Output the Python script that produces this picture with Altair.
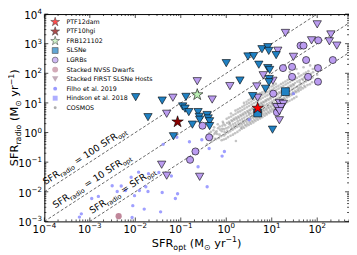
import math
import altair as alt
import pandas as pd

# ---------------- data ----------------
slsn_lim_x = [1.0, 3.0, 4.0, 6.1, 8.2, 8.6, 12.5, 5.2, 8.2, 9.0, 8.8, 2.0, 8.7, 7.3, 3.8,
              0.039, 0.13, 0.11, 0.124, 0.15, 0.24, 0.255, 0.38, 0.40, 0.43, 0.26, 0.18,
              0.43, 0.0102, 0.019, 0.069, 10.4]
slsn_lim_y = [220, 370, 380, 650, 760, 570, 410, 195, 150, 130, 64, 57, 50, 30, 17,
              12, 16, 7.6, 6.4, 4.9, 4.9, 3.4, 3.9, 3.0, 2.4, 2.7, 1.85,
              1.65, 15.6, 3.3, 0.75, 1.25]
slsn_det_x = [20, 4.9]
slsn_det_y = [24, 4.6]

lgrb_lim_x = [100, 20, 200, 75, 185, 270, 13.6, 30, 0.23, 1.2, 4.7, 6.5, 0.067, 0.49,
              0.049, 10.6, 4.9, 14.7, 18, 12.9, 16, 14.7, 14.7, 0.038, 0.049, 0.26]
lgrb_lim_y = [4500, 2300, 2050, 1300, 1200, 860, 580, 360, 54, 37, 36, 86, 15, 13,
              4.3, 56, 15, 10, 9.3, 7.2, 7.2, 5.3, 2.6, 0.082, 0.035, 0.032]
lgrb_det_x = [43, 50, 105, 57, 220, 17.7, 28, 104, 28, 63, 104, 10.8, 13, 0.3, 0.42, 0.21, 0.16]
lgrb_det_y = [860, 860, 1300, 280, 280, 150, 165, 150, 76, 76, 52, 20.6, 4.8, 1.7, 0.69, 0.23, 0.12]

ptf12dam = (4.9, 6.7)
ptf10hgi = (0.085, 2.3)
frb121102 = (0.23, 19)
nvss_x = [0.0043]
nvss_y = [0.0015]

filho_x = [0.041, 0.082, 0.155, 0.0118, 0.0081, 0.0031, 0.0049, 0.0040, 0.0061, 0.00154,
           0.0011, 0.0123, 0.0096, 0.019, 0.039, 0.017, 0.0195, 0.062, 0.085, 0.076,
           0.0088, 0.0157, 0.036, 0.0085, 0.00065, 0.00059, 0.033, 0.29, 0.42, 0.91,
           0.81, 0.24, 0.38, 30, 3.2]
filho_y = [0.40, 0.69, 0.49, 0.046, 0.031, 0.016, 0.0156, 0.0102, 0.011, 0.007,
           0.0059, 0.011, 0.0074, 0.0102, 0.0095, 0.0148, 0.041, 0.034, 0.0086, 0.0059,
           0.0034, 0.0026, 0.0021, 0.00135, 0.0018, 0.0014, 0.045, 0.57, 0.29, 0.23,
           0.16, 0.07, 0.0148, 20.6, 2.7]

cosmos_x = [0.4, 0.42, 0.38, 0.5, 0.52, 0.48, 0.55, 0.63, 0.66, 0.6, 0.65, 0.61,
            0.8, 0.82, 0.77, 0.84, 0.79, 0.81, 1.0, 1.04, 0.96, 1.02, 0.98, 1.06, 0.94,
            1.26, 1.3, 1.22, 1.28, 1.24, 1.32, 1.2, 1.27,
            1.58, 1.62, 1.54, 1.6, 1.56, 1.65, 1.52, 1.59, 1.63,
            2.0, 2.05, 1.95, 2.02, 1.97, 2.08, 1.92, 2.0, 2.1,
            2.5, 2.56, 2.44, 2.52, 2.47, 2.6, 2.4, 2.5, 2.58, 2.45,
            3.16, 3.24, 3.08, 3.2, 3.12, 3.3, 3.04, 3.18, 3.26, 3.1, 3.22,
            4.0, 4.1, 3.9, 4.05, 3.95, 4.15, 3.85, 4.02, 4.12, 3.92, 4.08,
            5.0, 5.1, 4.9, 5.06, 4.95, 5.2, 4.85, 5.04, 5.15, 4.9, 5.1,
            6.3, 6.45, 6.15, 6.35, 6.2, 6.5, 6.1, 6.3, 6.45, 6.2, 6.4,
            7.9, 8.1, 7.7, 8.0, 7.8, 8.2, 7.6, 7.95, 8.15, 7.75,
            10, 10.3, 9.7, 10.1, 9.8, 10.4, 9.6, 10, 10.2, 9.9,
            12.6, 13, 12.2, 12.7, 12.4, 13.1, 12.1, 12.6, 12.9, 12.3,
            15.8, 16.3, 15.3, 16, 15.5, 16.5, 15.2, 15.9, 16.2,
            20, 20.6, 19.4, 20.2, 19.6, 20.8, 19.2, 20,
            25, 25.8, 24.3, 25.3, 24.6, 26, 24.1, 25,
            31.6, 32.5, 30.7, 32, 31, 33, 30.5, 31.6,
            40, 41, 39, 40.5, 39.5, 41.5, 38.5,
            50, 51.5, 48.5, 50.5, 52, 49,
            63, 65, 61, 64, 62,
            79, 81, 77, 80,
            100, 96, 104,
            25, 35, 50, 70, 90]
cosmos_y = [0.6, 0.95, 0.4, 0.75, 1.2, 0.5, 0.9, 0.9, 1.4, 0.6, 1.9, 1.1,
            1.1, 1.7, 0.75, 2.3, 0.55, 1.35, 1.4, 2.1, 0.9, 2.9, 0.62, 1.15, 1.75,
            1.7, 2.6, 1.1, 3.5, 0.78, 1.4, 2.1, 4.4,
            2.1, 3.2, 1.4, 4.3, 0.95, 1.75, 2.7, 5.5, 0.52,
            2.6, 3.9, 1.7, 5.2, 1.2, 2.1, 3.2, 6.6, 1.45,
            3.2, 4.8, 2.1, 6.4, 1.45, 2.6, 4.0, 8.2, 1.8, 10,
            4.0, 5.9, 2.6, 7.9, 1.8, 3.2, 5.0, 10, 2.2, 12.5, 4.5,
            4.9, 7.3, 3.2, 9.8, 2.2, 3.9, 6.2, 12.5, 2.7, 15, 5.6,
            6.0, 9.0, 3.9, 12, 2.7, 4.8, 7.6, 15, 3.3, 19, 6.8,
            7.4, 11, 4.8, 15, 3.3, 5.9, 9.3, 19, 4.1, 23, 8.3,
            9.1, 13.6, 5.9, 18, 4.1, 7.2, 11.5, 23, 5.0, 29,
            11.2, 16.8, 7.3, 22, 5.1, 8.9, 14, 28, 6.2, 36,
            13.8, 20.7, 9, 28, 6.3, 11, 17.5, 35, 7.6, 44,
            17, 25.5, 11, 34, 7.8, 13.5, 21.5, 43, 9.4,
            21, 31, 13.6, 42, 9.6, 16.7, 26.5, 53,
            25.7, 38.5, 16.7, 51, 11.8, 20.5, 32, 65,
            31.6, 47, 20.5, 63, 14.5, 25, 40, 80,
            39, 58, 25, 78, 31, 49, 98,
            48, 72, 31, 96, 38, 60,
            59, 88, 40, 118, 75,
            72, 108, 50, 140,
            89, 130, 62,
            110, 140, 160, 185, 180]

cosmos2_x = [0.45, 0.46, 0.56, 0.58, 0.54, 0.71, 0.73, 0.69, 0.72,
             0.89, 0.9, 0.87, 0.92, 0.88, 1.12, 1.15, 1.1, 1.14, 1.09, 1.17,
             1.41, 1.45, 1.38, 1.43, 1.4, 1.47, 1.36,
             1.78, 1.82, 1.74, 1.8, 1.76, 1.85, 1.72, 1.79,
             2.24, 2.3, 2.18, 2.26, 2.2, 2.32, 2.15, 2.25, 2.28,
             2.82, 2.9, 2.75, 2.85, 2.78, 2.93, 2.72, 2.83, 2.88, 2.8,
             3.55, 3.65, 3.46, 3.6, 3.5, 3.7, 3.42, 3.57, 3.66, 3.48,
             4.47, 4.6, 4.35, 4.52, 4.4, 4.65, 4.3, 4.5, 4.6, 4.38,
             5.62, 5.78, 5.48, 5.68, 5.55, 5.85, 5.42, 5.65, 5.8, 5.5,
             7.08, 7.28, 6.9, 7.15, 6.98, 7.35, 6.85, 7.1, 7.3, 6.95,
             8.91, 9.15, 8.68, 9.0, 8.8, 9.25, 8.6, 8.95, 9.2, 8.75,
             11.2, 11.5, 10.9, 11.3, 11.05, 11.6, 10.8, 11.25, 11.45, 11.0,
             14.1, 14.5, 13.7, 14.2, 13.9, 14.6, 13.6, 14.1, 14.4,
             17.8, 18.3, 17.3, 18, 17.5, 18.5, 17.2, 17.8,
             22.4, 23, 21.8, 22.6, 22, 23.2, 21.6, 22.4,
             28.2, 29, 27.4, 28.5, 27.8, 29.2, 27.2,
             35.5, 36.5, 34.5, 35.8, 35, 37,
             44.7, 46, 43.4, 45, 44,
             56.2, 57.8, 54.6, 56.5,
             70.8, 72.8, 68.8]
cosmos2_y = [0.7, 1.05, 0.62, 1.0, 1.5, 0.85, 1.25, 0.65, 1.6,
             1.3, 0.8, 2.0, 1.05, 0.58, 1.5, 2.3, 1.0, 3.2, 0.7, 1.9,
             1.9, 2.9, 1.25, 3.9, 0.85, 1.6, 2.4,
             2.4, 3.5, 1.55, 4.8, 1.05, 2.0, 2.9, 6.0,
             2.9, 4.3, 1.9, 5.8, 1.35, 2.4, 3.6, 7.4, 1.6,
             3.6, 5.3, 2.35, 7.1, 1.65, 2.9, 4.4, 9.0, 2.0, 11,
             4.4, 6.6, 2.9, 8.8, 2.0, 3.6, 5.5, 11.2, 2.45, 14,
             5.4, 8.1, 3.5, 10.8, 2.45, 4.3, 6.9, 13.8, 3.0, 17,
             6.7, 10, 4.3, 13.4, 3.0, 5.3, 8.5, 17, 3.7, 21,
             8.2, 12.3, 5.3, 16.5, 3.7, 6.5, 10.4, 21, 4.5, 26,
             10.1, 15, 6.6, 20, 4.6, 8.0, 12.8, 25.5, 5.6, 32,
             12.4, 18.6, 8.1, 24.5, 5.7, 9.9, 15.7, 31, 6.9, 39,
             15.3, 23, 10, 30.5, 7.0, 12.2, 19.3, 38, 8.5,
             18.9, 28.3, 12.3, 37.5, 8.6, 15, 24, 48,
             23.3, 35, 15.2, 46, 10.7, 18.5, 29.5, 59,
             28.5, 42.7, 18.6, 57, 13.1, 22.7, 36,
             35, 52.5, 23, 70, 16.1, 28,
             43, 64.5, 28, 86, 34,
             53, 79, 34.5, 105,
             65, 97, 42.5]

line_mult = [1, 10, 100]
line_mid_text = [" = SFR", " = 10 SFR", " = 100 SFR"]

x_major = [1e-4, 1e-3, 1e-2, 1e-1, 1e0, 1e1, 1e2]
x_tick_exp = ["−4", "−3", "−2", "−1", "0", "1", "2"]
y_major = [1e-3, 1e-2, 1e-1, 1e0, 1e1, 1e2, 1e3, 1e4]
y_tick_exp = ["−3", "−2", "−1", "0", "1", "2", "3", "4"]

legend_names = ["PTF12dam", "PTF10hgi", "FRB121102", "SLSNe", "LGRBs",
                "Stacked NVSS Dwarfs", "Stacked FIRST SLSNe Hosts",
                "Filho et al. 2019", "Hindson et al. 2018", "COSMOS"]

# ---------------- layout & style ----------------
W, H = 310, 211
XMIN, XMAX = 1e-4, 500
YMIN, YMAX = 1e-3, 1e4
FONT = "DejaVu Sans"
BLUE = "#2081c3"
PURPLE = "#bb9cf0"
NVSS = "#c0879a"
FIRST = "#a9899b"
FILHO = "#7f7fff"
HINDSON = "#9a9aff"
GRAY = "#8a8a8a"
STAR = ("M0,-1L0.2245,-0.309L0.9511,-0.309L0.3633,0.118L0.5878,0.809L0,0.382"
        "L-0.5878,0.809L-0.3633,0.118L-0.9511,-0.309L-0.2245,-0.309Z")

xs = alt.Scale(type="log", domain=[XMIN, XMAX], nice=False)
ys = alt.Scale(type="log", domain=[YMIN, YMAX], nice=False)


def xy_enc():
    return dict(x=alt.X("x:Q", scale=xs, axis=None), y=alt.Y("y:Q", scale=ys, axis=None))


def scatter(xv, yv, **mark):
    df = pd.DataFrame({"x": xv, "y": yv})
    return alt.Chart(df).mark_point(filled=True, **mark).encode(**xy_enc())


# diagonal reference lines
rows = []
for k in line_mult:
    for xv in [XMIN, XMAX]:
        rows.append({"x": xv, "y": k * xv, "k": str(k)})
lines = alt.Chart(pd.DataFrame(rows)).mark_line(
    clip=True, color="#404040", strokeWidth=0.8, strokeDash=[3, 2]
).encode(**xy_enc(), detail="k:N")

# inward ticks on all four sides
x_minor = [m * 10.0 ** e for e in range(-4, 3) for m in range(2, 10) if m * 10.0 ** e <= XMAX]
y_minor = [m * 10.0 ** e for e in range(-3, 4) for m in range(2, 10)]


def ticks(vals, axis, length):
    df = pd.DataFrame({"v": vals})
    out = []
    if axis == "x":
        for y1, y2 in [(H, H - length), (0, length)]:
            out.append(alt.Chart(df).mark_rule(color="black", strokeWidth=0.7).encode(
                x=alt.X("v:Q", scale=xs, axis=None), y=alt.value(y1), y2=alt.value(y2)))
    else:
        for x1, x2 in [(0, length), (W, W - length)]:
            out.append(alt.Chart(df).mark_rule(color="black", strokeWidth=0.7).encode(
                y=alt.Y("v:Q", scale=ys, axis=None), x=alt.value(x1), x2=alt.value(x2)))
    return out


tick_layers = ticks(x_major, "x", 4) + ticks(x_minor, "x", 2) + ticks(y_major, "y", 4) + ticks(y_minor, "y", 2)

# text width table (DejaVu Sans advances, em)
W_EM = {"S": 0.635, "F": 0.575, "R": 0.695, " ": 0.318, "(": 0.390, ")": 0.390, "M": 0.863,
        "⊙": 0.838, "y": 0.592, "r": 0.411, "−": 0.838, "0": 0.636, "1": 0.636, "2": 0.636,
        "3": 0.636, "4": 0.636, "o": 0.612, "p": 0.635, "t": 0.392, "a": 0.613, "d": 0.635,
        "i": 0.278, "=": 0.838}


def tw(s, size):
    return sum(W_EM.get(c, 0.6) for c in s) * size


def total_width(pieces):
    return sum(tw(t, s) for t, s, _ in pieces)


def rich(pieces, base_df, enc, angle=0.0, base_dy=0.0):
    out = []
    off = 0.0
    for text, size, shift in pieces:
        lead = len(text) - len(text.lstrip(" "))
        body = text.strip(" ")
        out.append(alt.Chart(base_df).mark_text(
            text=body, font=FONT, fontSize=size, align="left", baseline="alphabetic",
            angle=angle, dx=off + tw(text[:lead], size), dy=base_dy + shift, color="black"
        ).encode(**enc))
        off += tw(text, size)
    return out


# tick labels: "10" with a raised exponent
LF, EF = 10.5, 7.2
tick_label_layers = []
for v, e in zip(x_major, x_tick_exp):
    df = pd.DataFrame({"v": [v]})
    tot = tw("10", LF) + tw(e, EF)
    enc = dict(x=alt.X("v:Q", scale=xs, axis=None), y=alt.value(H + 11.5))
    tick_label_layers.append(alt.Chart(df).mark_text(
        text="10", font=FONT, fontSize=LF, align="left", baseline="alphabetic",
        dx=-tot / 2, color="black").encode(**enc))
    tick_label_layers.append(alt.Chart(df).mark_text(
        text=e, font=FONT, fontSize=EF, align="left", baseline="alphabetic",
        dx=-tot / 2 + tw("10", LF), dy=-4.8, color="black").encode(**enc))
for v, e in zip(y_major, y_tick_exp):
    df = pd.DataFrame({"v": [v]})
    enc = dict(y=alt.Y("v:Q", scale=ys, axis=None), x=alt.value(-2.5))
    tick_label_layers.append(alt.Chart(df).mark_text(
        text="10", font=FONT, fontSize=LF, align="right", baseline="alphabetic",
        dx=-tw(e, EF), dy=4.8, color="black").encode(**enc))
    tick_label_layers.append(alt.Chart(df).mark_text(
        text=e, font=FONT, fontSize=EF, align="right", baseline="alphabetic",
        dy=0.0, color="black").encode(**enc))

# diagonal line labels
theta = math.degrees(math.atan((H / math.log10(YMAX / YMIN)) / (W / math.log10(XMAX / XMIN))))
diag_angle = 360 - theta
label_start = {1: 1.28e-3, 10: 2.0e-4, 100: 1.22e-4}
F1, F2 = 9.5, 6.6
diag_layers = []
for k, mid in zip(line_mult, line_mid_text):
    pieces = [("SFR", F1, 0), ("radio", F2, 2.4), (mid, F1, 0), ("opt", F2, 2.4)]
    xa = label_start[k]
    df = pd.DataFrame({"x": [xa], "y": [k * xa]})
    diag_layers += rich(pieces, df, xy_enc(), angle=diag_angle, base_dy=-5)

# axis titles
T1, T2 = 11.5, 8
one = pd.DataFrame({"a": [0]})
xt = [("SFR", T1, 0), ("opt", T2, 2.6), (" (M", T1, 0), ("⊙", T2, 2.6), (" yr", T1, 0),
      ("−1", T2, -4.6), (")", T1, 0)]
yt = [("SFR", T1, 0), ("radio", T2, 2.6), (" (M", T1, 0), ("⊙", T2, 2.6), (" yr", T1, 0),
      ("−1", T2, -4.6), (")", T1, 0)]
title_layers = rich(xt, one, dict(x=alt.value(W / 2 - total_width(xt) / 2), y=alt.value(H + 26)))
title_layers += rich(yt, one, dict(x=alt.value(-26.5), y=alt.value(H / 2 + total_width(yt) / 2)), angle=270)

# legend (upper left, inside the frame)
legend_style = [
    dict(shape=STAR, fill="#ff0000", stroke="black", size=90),
    dict(shape=STAR, fill="#8b0000", stroke="black", size=90),
    dict(shape=STAR, fill="#bdf0b5", stroke="black", size=90),
    dict(shape="square", fill=BLUE, stroke="black", size=36),
    dict(shape="circle", fill=PURPLE, stroke="black", size=36),
    dict(shape="circle", fill=NVSS, size=36),
    dict(shape="triangle-down", fill=FIRST, size=42),
    dict(shape="circle", fill=FILHO, size=16, opacity=0.8),
    dict(shape="square", fill=HINDSON, size=25, opacity=0.8),
    dict(shape="circle", fill=GRAY, size=9, opacity=0.7),
]
legend_layers = []
for i, (name, st) in enumerate(zip(legend_names, legend_style)):
    ly = 8 + 9.7 * i
    props = dict(st)
    if "stroke" in props:
        props["strokeWidth"] = 0.6
    legend_layers.append(alt.Chart(one).mark_point(filled=True, **props).encode(
        x=alt.value(11), y=alt.value(ly)))
    legend_layers.append(alt.Chart(one).mark_text(
        text=name, font=FONT, fontSize=6.4, align="left", baseline="middle", color="black"
    ).encode(x=alt.value(22.5), y=alt.value(ly)))

# data layers
data_layers = [
    scatter(cosmos_x + cosmos2_x, cosmos_y + cosmos2_y, shape="circle", fill=GRAY, size=7, opacity=0.5),
    scatter(filho_x, filho_y, shape="circle", fill=FILHO, size=12, opacity=0.75),
    scatter(nvss_x, nvss_y, shape="circle", fill=NVSS, size=40, opacity=1),
    scatter(lgrb_det_x, lgrb_det_y, shape="circle", fill=PURPLE, stroke="black", strokeWidth=0.6, size=52, opacity=1),
    scatter(lgrb_lim_x, lgrb_lim_y, shape="triangle-down", fill=PURPLE, stroke="black", strokeWidth=0.6, size=72, opacity=1),
    scatter(slsn_lim_x, slsn_lim_y, shape="triangle-down", fill=BLUE, stroke="black", strokeWidth=0.6, size=72, opacity=1),
    scatter(slsn_det_x, slsn_det_y, shape="square", fill=BLUE, stroke="black", strokeWidth=0.6, size=64, opacity=1),
    scatter([frb121102[0]], [frb121102[1]], shape=STAR, fill="#bdf0b5", stroke="black", strokeWidth=0.6, size=150, opacity=1),
    scatter([ptf10hgi[0]], [ptf10hgi[1]], shape=STAR, fill="#8b0000", stroke="black", strokeWidth=0.6, size=150, opacity=1),
    scatter([ptf12dam[0]], [ptf12dam[1]], shape=STAR, fill="#ff0000", stroke="black", strokeWidth=0.6, size=150, opacity=1),
]

chart = alt.layer(
    lines, *tick_layers, *data_layers, *diag_layers, *tick_label_layers, *title_layers, *legend_layers
).properties(
    width=W, height=H,
    autosize=alt.AutoSizeParams(type="none"),
    padding={"left": 37, "top": 4, "right": 0, "bottom": 31},
).configure_view(stroke="black", strokeWidth=1)

chart.save("out.html", embed_options={"renderer": "svg", "actions": False})
